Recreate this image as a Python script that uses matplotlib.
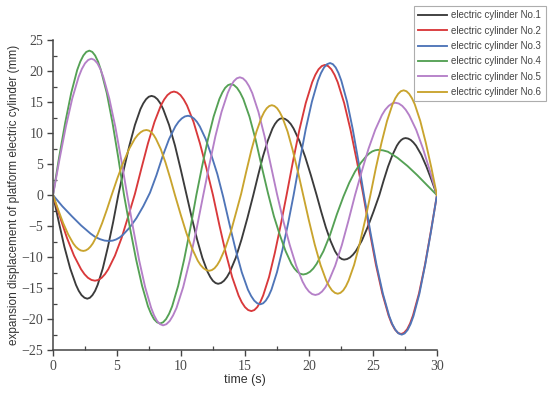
import matplotlib
matplotlib.use("Agg")
import matplotlib.pyplot as plt
from matplotlib.ticker import MultipleLocator

labels = ["electric cylinder No.1", "electric cylinder No.2", "electric cylinder No.3",
          "electric cylinder No.4", "electric cylinder No.5", "electric cylinder No.6"]
colors = ["#3b3b3b", "#d9393b", "#4f75b8", "#55a155", "#b580c8", "#c9a42e"]

t1 = [0, 0.45, 0.89, 1.34, 1.79, 2.01, 2.23, 2.46, 2.68,
      2.88, 3.08, 3.29, 3.49, 3.89, 4.29, 4.70, 5.10,
      5.53, 5.97, 6.40, 6.83, 7.05, 7.27, 7.48, 7.70,
      7.93, 8.16, 8.39, 8.61, 9.07, 9.53, 9.98, 10.44,
      10.85, 11.26, 11.67, 12.08, 12.29, 12.49, 12.70, 12.90,
      13.13, 13.36, 13.59, 13.82, 14.28, 14.73, 15.19, 15.65,
      16.03, 16.40, 16.78, 17.15, 17.34, 17.53, 17.71, 17.90,
      18.13, 18.35, 18.58, 18.80, 19.25, 19.70, 20.15, 20.60,
      20.96, 21.32, 21.68, 22.03, 22.21, 22.39, 22.57, 22.75,
      22.98, 23.21, 23.44, 23.67, 24.13, 24.58, 25.04, 25.50,
      25.84, 26.18, 26.53, 26.87, 27.04, 27.21, 27.38, 27.55,
      27.75, 27.96, 28.16, 28.37, 28.78, 29.18, 29.59, 30.0]
v1 = [0, -4.33, -8.35, -11.81, -14.46, -15.43, -16.13, -16.55, -16.7,
      -16.55, -16.13, -15.43, -14.46, -11.81, -8.35, -4.33, 0,
      4.14, 8.0, 11.31, 13.86, 14.78, 15.46, 15.86, 16.0,
      15.86, 15.46, 14.78, 13.86, 11.31, 8.0, 4.14, 0,
      -3.70, -7.15, -10.11, -12.38, -13.21, -13.81, -14.17, -14.3,
      -14.17, -13.81, -13.21, -12.38, -10.11, -7.15, -3.70, 0,
      3.21, 6.2, 8.77, 10.74, 11.46, 11.98, 12.29, 12.4,
      12.29, 11.98, 11.46, 10.74, 8.77, 6.2, 3.21, 0,
      -2.69, -5.2, -7.35, -9.01, -9.61, -10.05, -10.31, -10.4,
      -10.31, -10.05, -9.61, -9.01, -7.35, -5.2, -2.69, 0,
      2.38, 4.6, 6.50, 7.97, 8.50, 8.89, 9.12, 9.2,
      9.12, 8.89, 8.50, 7.97, 6.50, 4.6, 2.38, 0]

t2 = [0, 0.55, 1.09, 1.64, 2.19, 2.46, 2.73, 3.01, 3.28,
      3.54, 3.80, 4.06, 4.32, 4.84, 5.36, 5.88, 6.40,
      6.91, 7.42, 7.93, 8.43, 8.69, 8.94, 9.20, 9.45,
      9.70, 9.96, 10.21, 10.47, 10.98, 11.48, 11.99, 12.50,
      13.00, 13.50, 14.00, 14.50, 14.75, 15.00, 15.25, 15.50,
      15.73, 15.96, 16.19, 16.42, 16.88, 17.33, 17.79, 18.25,
      18.75, 19.25, 19.75, 20.25, 20.50, 20.75, 21.00, 21.25,
      21.50, 21.75, 22.00, 22.25, 22.75, 23.25, 23.75, 24.25,
      24.74, 25.23, 25.73, 26.22, 26.46, 26.71, 26.95, 27.20,
      27.43, 27.67, 27.90, 28.13, 28.60, 29.07, 29.53, 30.0]
v2 = [0, -3.57, -6.9, -9.76, -11.95, -12.75, -13.33, -13.68, -13.8,
      -13.68, -13.33, -12.75, -11.95, -9.76, -6.9, -3.4, 0.2,
      4.33, 8.35, 11.81, 14.46, 15.43, 16.13, 16.55, 16.7,
      16.55, 16.13, 15.43, 14.46, 11.81, 8.35, 4.33, 0,
      -4.84, -9.35, -13.22, -16.19, -17.28, -18.06, -18.53, -18.7,
      -18.53, -18.06, -17.28, -16.19, -13.22, -9.35, -4.84, 0,
      5.44, 10.5, 14.85, 18.19, 19.40, 20.29, 20.81, 21.0,
      20.81, 20.29, 19.40, 18.19, 14.85, 10.5, 5.44, 0,
      -5.80, -11.2, -15.84, -19.40, -20.70, -21.64, -22.20, -22.4,
      -22.20, -21.64, -20.70, -19.40, -15.84, -11.2, -5.80, 0]

t3 = [0, 0.73, 1.47, 2.20, 2.93, 3.30, 3.67, 4.03, 4.40,
      4.67, 4.93, 5.20, 5.46, 5.99, 6.52, 7.05, 7.58,
      8.08, 8.57, 9.07, 9.56, 9.81, 10.06, 10.30, 10.55,
      10.78, 11.01, 11.24, 11.47, 11.93, 12.38, 12.84, 13.30,
      13.78, 14.27, 14.75, 15.23, 15.48, 15.72, 15.96, 16.20,
      16.42, 16.63, 16.85, 17.07, 17.50, 17.93, 18.37, 18.80,
      19.28, 19.75, 20.23, 20.70, 20.94, 21.18, 21.41, 21.65,
      21.87, 22.09, 22.31, 22.53, 22.98, 23.42, 23.86, 24.30,
      24.79, 25.28, 25.78, 26.27, 26.51, 26.76, 27.00, 27.25,
      27.48, 27.71, 27.94, 28.17, 28.63, 29.08, 29.54, 30.0]
v3 = [0, -1.8, -3.4, -4.9, -6.2, -6.75, -7.1, -7.33, -7.4,
      -7.33, -7.15, -6.84, -6.41, -5.23, -3.7, -1.8, 0.4,
      3.2, 6.3, 9.05, 11.08, 11.83, 12.36, 12.68, 12.8,
      12.68, 12.36, 11.83, 11.08, 9.05, 6.4, 3.4, -0.3,
      -4.6, -8.8, -12.44, -15.24, -16.26, -17.0, -17.44, -17.6,
      -17.44, -17.0, -16.26, -15.24, -12.44, -8.8, -4.56, 0,
      5.52, 10.65, 15.06, 18.45, 19.68, 20.58, 21.11, 21.3,
      21.11, 20.58, 19.68, 18.45, 15.06, 10.65, 5.52, 0,
      -5.83, -11.25, -15.91, -19.49, -20.79, -21.74, -22.30, -22.5,
      -22.30, -21.74, -20.79, -19.49, -15.91, -11.25, -5.83, 0]

t4 = [0, 0.47, 0.95, 1.42, 1.89, 2.13, 2.37, 2.60, 2.84,
      3.07, 3.29, 3.52, 3.74, 4.20, 4.65, 5.10, 5.55,
      6.02, 6.49, 6.96, 7.42, 7.66, 7.89, 8.13, 8.36,
      8.60, 8.83, 9.07, 9.31, 9.78, 10.25, 10.73, 11.20,
      11.65, 12.10, 12.55, 13.00, 13.23, 13.45, 13.68, 13.90,
      14.14, 14.38, 14.62, 14.87, 15.35, 15.83, 16.32, 16.80,
      17.26, 17.72, 18.18, 18.63, 18.86, 19.09, 19.32, 19.55,
      19.81, 20.08, 20.34, 20.60, 21.13, 21.65, 22.18, 22.70,
      23.15, 23.60, 24.05, 24.50, 24.73, 24.95, 25.18, 25.40,
      25.78, 26.17, 26.93, 27.70, 28.47, 29.23, 30.0]
v4 = [0, 6.03, 11.65, 16.47, 20.18, 21.53, 22.51, 23.09, 23.3,
      23.09, 22.51, 21.53, 20.18, 16.47, 11.65, 6.03, 0,
      -5.36, -10.35, -14.63, -17.93, -19.13, -20.0, -20.51, -20.7,
      -20.51, -20.0, -19.13, -17.93, -14.63, -10.35, -5.36, 0,
      4.64, 8.95, 12.66, 15.50, 16.54, 17.29, 17.74, 17.9,
      17.74, 17.29, 16.54, 15.50, 12.66, 8.95, 4.5, 0.3,
      -3.4, -6.4, -9.05, -11.08, -11.83, -12.36, -12.68, -12.8,
      -12.68, -12.36, -11.83, -11.08, -9.05, -6.4, -3.1, -0.2,
      2.0, 3.8, 5.2, 6.32, 6.75, 7.05, 7.23, 7.3,
      7.22, 7.0, 6.0, 4.7, 3.2, 1.6, 0]

t5 = [0, 0.50, 1.00, 1.50, 2.00, 2.25, 2.50, 2.75, 3.00,
      3.23, 3.47, 3.70, 3.93, 4.40, 4.87, 5.33, 5.80,
      6.27, 6.73, 7.20, 7.67, 7.90, 8.13, 8.37, 8.60,
      8.86, 9.12, 9.38, 9.65, 10.17, 10.69, 11.22, 11.74,
      12.22, 12.69, 13.17, 13.65, 13.89, 14.12, 14.36, 14.60,
      14.84, 15.08, 15.32, 15.57, 16.05, 16.53, 17.02, 17.50,
      18.00, 18.50, 19.00, 19.50, 19.75, 20.00, 20.25, 20.50,
      20.76, 21.02, 21.28, 21.53, 22.05, 22.57, 23.08, 23.60,
      24.13, 24.65, 25.18, 25.70, 25.96, 26.23, 26.49, 26.75,
      27.02, 27.29, 27.56, 27.83, 28.38, 28.92, 29.46, 30.0]
v5 = [0, 5.70, 11.0, 15.55, 19.05, 20.33, 21.25, 21.80, 22.0,
      21.80, 21.25, 20.33, 19.05, 15.55, 11.0, 5.70, 0,
      -5.44, -10.5, -14.85, -18.19, -19.40, -20.29, -20.81, -21.0,
      -20.81, -20.29, -19.40, -18.19, -14.85, -10.5, -5.44, 0,
      4.92, 9.5, 13.43, 16.45, 17.56, 18.35, 18.83, 19.0,
      18.83, 18.35, 17.56, 16.45, 13.43, 9.5, 4.8, 0.2,
      -4.2, -8.05, -11.38, -13.94, -14.88, -15.55, -15.96, -16.1,
      -15.96, -15.55, -14.88, -13.94, -11.38, -8.05, -4.17, 0,
      3.86, 7.45, 10.53, 12.90, 13.77, 14.39, 14.77, 14.9,
      14.77, 14.39, 13.77, 12.90, 10.53, 7.45, 3.86, 0]

t6 = [0, 0.40, 0.79, 1.19, 1.58, 1.78, 1.98, 2.17, 2.37,
      2.55, 2.74, 2.92, 3.11, 3.48, 3.84, 4.21, 4.58,
      5.03, 5.49, 5.94, 6.39, 6.62, 6.85, 7.07, 7.30,
      7.49, 7.67, 7.86, 8.04, 8.42, 8.79, 9.16, 9.53,
      9.98, 10.42, 10.87, 11.31, 11.53, 11.76, 11.98, 12.20,
      12.41, 12.62, 12.83, 13.03, 13.45, 13.87, 14.28, 14.70,
      15.10, 15.50, 15.90, 16.30, 16.50, 16.70, 16.90, 17.10,
      17.30, 17.51, 17.71, 17.92, 18.33, 18.73, 19.14, 19.55,
      20.00, 20.45, 20.90, 21.35, 21.58, 21.80, 22.03, 22.25,
      22.46, 22.68, 22.89, 23.10, 23.53, 23.95, 24.38, 24.80,
      25.23, 25.67, 26.10, 26.53, 26.75, 26.97, 27.18, 27.40,
      27.62, 27.83, 28.05, 28.27, 28.70, 29.13, 29.57, 30.0]
v6 = [0, -2.33, -4.5, -6.36, -7.79, -8.32, -8.69, -8.92, -9.0,
      -8.92, -8.69, -8.32, -7.79, -6.36, -4.5, -2.33, 0,
      2.72, 5.25, 7.42, 9.09, 9.70, 10.14, 10.41, 10.5,
      10.41, 10.14, 9.70, 9.09, 7.42, 5.25, 2.72, 0,
      -3.16, -6.1, -8.63, -10.57, -11.27, -11.79, -12.09, -12.2,
      -12.09, -11.79, -11.27, -10.57, -8.63, -6.1, -3.0, 0.2,
      3.8, 7.25, 10.25, 12.56, 13.40, 14.01, 14.37, 14.5,
      14.37, 14.01, 13.40, 12.56, 10.25, 7.25, 3.76, 0,
      -4.12, -7.95, -11.24, -13.77, -14.69, -15.36, -15.76, -15.9,
      -15.76, -15.36, -14.69, -13.77, -11.24, -7.95, -4.12, 0,
      4.38, 8.45, 11.95, 14.64, 15.62, 16.33, 16.75, 16.9,
      16.75, 16.33, 15.62, 14.64, 11.95, 8.45, 4.38, 0]

x_ticks = [0, 5, 10, 15, 20, 25, 30]
y_ticks = [-25, -20, -15, -10, -5, 0, 5, 10, 15, 20, 25]
x_label = "time (s)"
y_label = "expansion displacement of platform electric cylinder (mm)"

series_t = [t1, t2, t3, t4, t5, t6]
series_v = [v1, v2, v3, v4, v5, v6]

fig = plt.figure(figsize=(5.5, 3.93), dpi=100)
ax = fig.add_axes([0.0964, 0.109, 0.698, 0.789])

for t, v, c, lab in zip(series_t, series_v, colors, labels):
    ax.plot(t, v, color=c, lw=1.35, label=lab, solid_joinstyle="round")

ax.set_xlim(0, 30)
ax.set_ylim(-25, 25)
ax.set_xticks(x_ticks)
ax.set_yticks(y_ticks)
ax.xaxis.set_minor_locator(MultipleLocator(2.5))
ax.yaxis.set_minor_locator(MultipleLocator(2.5))
ax.spines["top"].set_visible(False)
ax.spines["right"].set_visible(False)
for s in ("left", "bottom"):
    ax.spines[s].set_color("#444444")
    ax.spines[s].set_linewidth(1.1)
ax.tick_params(which="major", direction="out", length=4, width=1.0, color="#444444",
               labelsize=10, labelcolor="#4a4a4a", pad=3)
ax.tick_params(which="minor", direction="in", length=3, width=0.9, color="#444444")
for lbl in ax.get_xticklabels() + ax.get_yticklabels():
    lbl.set_fontfamily("Liberation Serif")

ax.set_xlabel(x_label, fontsize=9, family="Liberation Sans", color="#333333", labelpad=1)
ax.set_ylabel(y_label, fontsize=8.5, family="Liberation Sans", color="#333333", labelpad=1)

leg = fig.legend(loc="upper right", bbox_to_anchor=(0.996, 0.99),
                 prop={"family": "Liberation Sans", "size": 7}, frameon=True, fancybox=False,
                 edgecolor="#999999", handlelength=2.9, handletextpad=0.5, labelspacing=0.55,
                 borderpad=0.45, borderaxespad=0.2)
leg.get_frame().set_linewidth(0.8)
for txt in leg.get_texts():
    txt.set_color("#444444")

fig.savefig("out.png", dpi=100, facecolor="white")
